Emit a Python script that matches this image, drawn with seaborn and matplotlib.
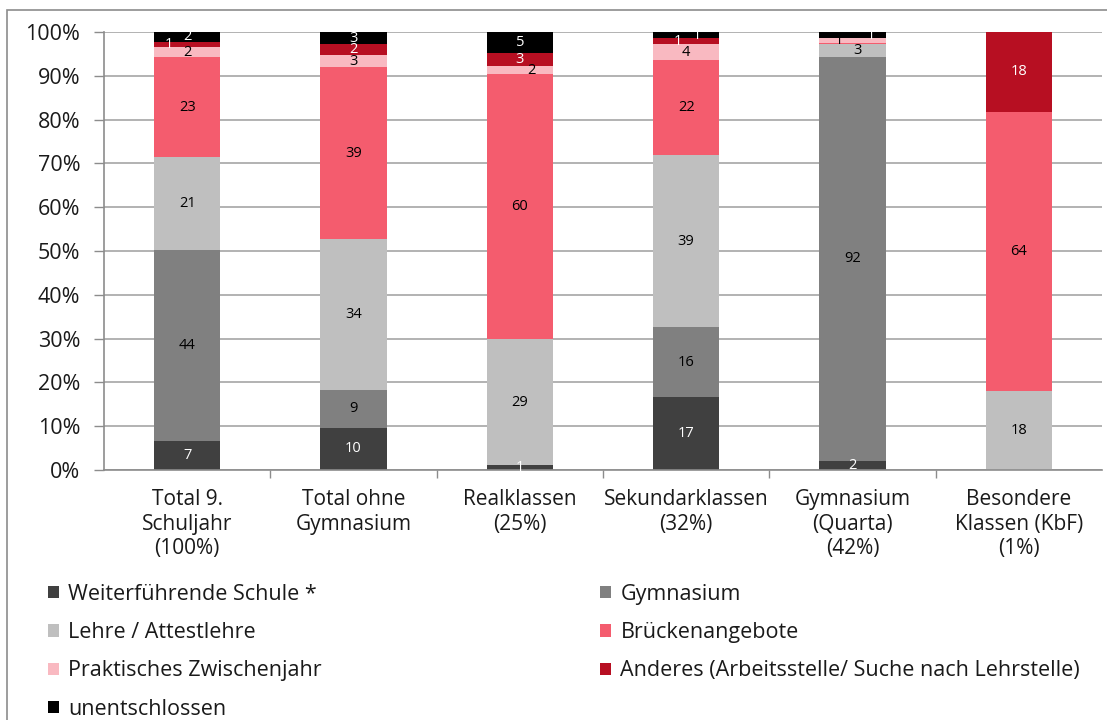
import numpy as np
import pandas as pd
import matplotlib
matplotlib.use("Agg")
import matplotlib.pyplot as plt
import seaborn as sns
from matplotlib.patches import Patch, Rectangle

# ---- data ----
categories = ["Total 9.\nSchuljahr\n(100%)", "Total ohne\nGymnasium", "Realklassen\n(25%)",
              "Sekundarklassen\n(32%)", "Gymnasium\n(Quarta)\n(42%)", "Besondere\nKlassen (KbF)\n(1%)"]
series_names = ["Weiterführende Schule *", "Gymnasium", "Lehre / Attestlehre", "Brückenangebote",
                "Praktisches Zwischenjahr", "Anderes (Arbeitsstelle/ Suche nach Lehrstelle)", "unentschlossen"]
weiterfuehrende = [6.6, 9.7, 1.1, 16.7, 2.0, 0]
gymnasium = [43.6, 8.6, 0, 15.9, 92.4, 0]
lehre = [21.2, 34.4, 28.8, 39.3, 2.8, 18.1]
bruecken = [22.9, 39.2, 60.4, 21.6, 0.3, 63.7]
praktisch = [2.2, 2.9, 1.9, 3.7, 1.1, 0]
anderes = [1.3, 2.4, 2.9, 1.4, 0, 18.2]
unentschlossen = [2.2, 2.8, 4.9, 1.4, 1.4, 0]
ytick_labels = ["0%", "10%", "20%", "30%", "40%", "50%", "60%", "70%", "80%", "90%", "100%"]

series = [weiterfuehrende, gymnasium, lehre, bruecken, praktisch, anderes, unentschlossen]
colors = ["#404040", "#808080", "#BFBFBF", "#F45C6E", "#F9B9C1", "#B70F22", "#000000"]
label_colors = ["white", "black", "black", "black", "black", "white", "white"]
# horizontal label nudges (series index, category index) -> offset in category units
nudges = {(5, 0): -0.11, (4, 2): 0.07, (6, 3): 0.065, (5, 3): -0.05,
          (4, 4): -0.08, (6, 4): 0.11, (2, 4): 0.03}

sns.set_theme(style="white")
plt.rcParams["font.family"] = ["Open Sans", "DejaVu Sans"]
TXT = "#1a1a1a"

fig = plt.figure(figsize=(11.07, 7.2), dpi=100)
ax = fig.add_axes([104 / 1107, 1 - 470 / 720, (1102 - 104) / 1107, (470 - 32) / 720])

vals = np.array(series, dtype=float)
cum = np.cumsum(vals, axis=0)

# draw cumulative bars from top layer down so lower layers cover
for i in range(len(series) - 1, -1, -1):
    df = pd.DataFrame({"cat": categories, "val": cum[i]})
    sns.barplot(data=df, x="cat", y="val", color=colors[i], width=0.4,
                saturation=1, ax=ax, zorder=2, linewidth=0)

# labels
for i in range(len(series)):
    for j in range(len(categories)):
        v = vals[i, j]
        if v < 0.5:
            continue
        y = cum[i, j] - v / 2
        x = j + nudges.get((i, j), 0)
        ax.text(x, y, f"{int(np.floor(v + 0.5))}", ha="center", va="center",
                fontsize=10.5, color=label_colors[i], zorder=3)

ax.set_ylim(0, 100)
ax.set_xlim(-0.5, len(categories) - 0.5)
ax.set_yticks(np.arange(0, 101, 10))
ax.set_yticklabels(ytick_labels, fontsize=15.5, color=TXT)
ax.set_xticks(range(len(categories)))
ax.set_xticklabels(categories, fontsize=15, color=TXT, linespacing=1.2)
ax.set_xlabel("")
ax.set_ylabel("")
ax.grid(axis="y", color="#A6A6A6", linewidth=1.2, zorder=0)
ax.set_axisbelow(True)
for s in ["top", "right"]:
    ax.spines[s].set_visible(False)
for s in ["left", "bottom"]:
    ax.spines[s].set_color("#8C8C8C")
    ax.spines[s].set_linewidth(1.2)

# y ticks outward
ax.tick_params(axis="y", which="major", length=7, width=1, color="#8C8C8C", left=True, pad=10)
# x ticks at category boundaries
ax.tick_params(axis="x", which="major", length=0, pad=14)
ax.set_xticks(np.arange(0.5, len(categories) - 0.5, 1), minor=True)
ax.tick_params(axis="x", which="minor", length=6, width=1, color="#8C8C8C", bottom=True)

# legend: two columns placed separately
col1 = [0, 2, 4, 6]
col2 = [1, 3, 5]
leg_kw = dict(loc="upper left", frameon=False, fontsize=15.5, handlelength=0.5,
              handleheight=0.5, handletextpad=0.45, labelspacing=0.8, borderpad=0,
              borderaxespad=0, labelcolor=TXT)
for cols, x0 in [(col1, 48), (col2, 600)]:
    handles = [Patch(facecolor=colors[k], edgecolor="none", label=series_names[k]) for k in cols]
    fig.legend(handles=handles, bbox_to_anchor=(x0 / 1107, 1 - 584 / 720), **leg_kw)

# outer frame
fig.patches.append(Rectangle((7 / 1107, -0.01), 1.1, 1 - 10 / 720 + 0.01, transform=fig.transFigure,
                             fill=False, edgecolor="#8C8C8C", linewidth=1.2))

fig.savefig("out.png", dpi=100)
